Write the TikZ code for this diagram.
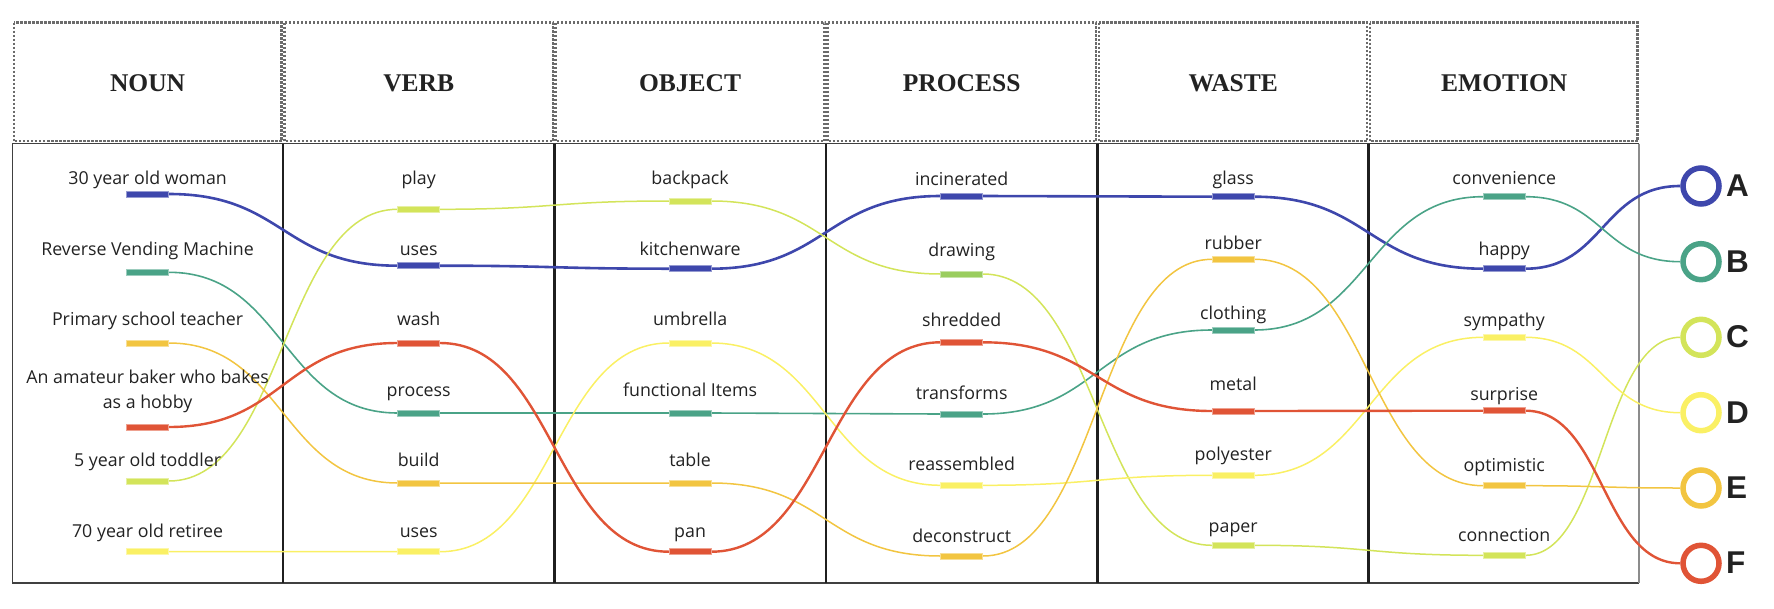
\documentclass[tikz,border=0pt]{standalone}
\usepackage{fontspec}
\newfontfamily\labfont{Open Sans}
\newfontfamily\letfont{Liberation Sans}
\newfontfamily\headfont{Liberation Serif}
\pgfdeclarelayer{frame}
\pgfdeclarelayer{lines}
\pgfsetlayers{frame,lines,main}
\definecolor{cblue}{HTML}{3E47AC}
\definecolor{cteal}{HTML}{4AA387}
\definecolor{clime}{HTML}{D3E45A}
\definecolor{cgreen}{HTML}{9ACD5E}
\definecolor{cyellow}{HTML}{FAF064}
\definecolor{corange}{HTML}{F2C541}
\definecolor{cred}{HTML}{E05436}
\definecolor{ctext}{HTML}{222222}
\begin{document}
\begin{tikzpicture}[x=1pt,y=-1pt,
  bar/.style={rectangle, inner sep=0pt, minimum width=42pt, minimum height=6pt, fill=#1, draw=#1!55!white, line width=0.6pt},
  lab/.style={font=\labfont\fontsize{17.8}{21}\selectfont, text=ctext, anchor=base, inner sep=0pt, align=center},
  head/.style={font=\headfont\bfseries\fontsize{25.5}{28}\selectfont, text=ctext, anchor=base, inner sep=0pt},
  headcell/.style={draw=black!58, line width=2.5pt, dash pattern=on 2.2pt off 1.8pt},
  divider/.style={draw=black!88, line width=2.8pt},
  flow/.style={out=0, in=180, distance=115pt},
  endflow/.style={out=0, in=180, distance=78pt},
  ring/.style={circle, draw=#1, line width=5.5pt, minimum size=36pt, inner sep=0pt, fill=white},
  letter/.style={font=\letfont\bfseries\fontsize{31.5}{34}\selectfont, text=ctext, anchor=base west, inner sep=0pt},
  lblue/.style={draw=cblue, line width=2.6pt},
  lteal/.style={draw=cteal, line width=1.6pt},
  llime/.style={draw=clime, line width=1.5pt},
  lyellow/.style={draw=cyellow, line width=1.5pt},
  lorange/.style={draw=corange, line width=1.5pt},
  lred/.style={draw=cred, line width=2.4pt}
]
\useasboundingbox (0,0) rectangle (1774,608);

% ---------- frame ----------
\begin{pgfonlayer}{frame}
\foreach \a/\b in {12.5/283, 283/554.4, 554.4/826, 826/1097.5, 1097.5/1368.5, 1368.5/1639}{
  \draw[headcell] (\a+1.3,22.7) rectangle (\b-1.3,141.2);
}
\draw[draw=black!75, line width=1.8pt] (1639,143.5) -- (12.5,143.5) -- (12.5,583) -- (1639,583);
\draw[draw=black!45, line width=1.5pt] (1639,143.5) -- (1639,583);
\foreach \x in {283, 554.4, 826, 1097.5, 1368.5}{
  \draw[divider] (\x,143.5) -- (\x,583);
}
\end{pgfonlayer}

% ---------- headers ----------
\node[head] (hN) at (147.6,91.7) {NOUN};
\node[head] (hV) at (418.7,91.7) {VERB};
\node[head] (hO) at (690.1,91.7) {OBJECT};
\node[head] (hP) at (961.7,91.7) {PROCESS};
\node[head] (hW) at (1233.2,91.7) {WASTE};
\node[head] (hE) at (1504.2,91.7) {EMOTION};

% ---------- NOUN ----------
\node[lab] (tn1) at (147.6,184.5) {30 year old woman};
\node[lab] (tn2) at (147.6,255) {Reverse Vending Machine};
\node[lab] (tn3) at (147.6,325) {Primary school teacher};
\node[lab] (tn4a) at (147.6,383) {An amateur baker who bakes};
\node[lab] (tn4b) at (147.6,408.5) {as a hobby};
\node[lab] (tn5) at (147.6,466) {5 year old toddler};
\node[lab] (tn6) at (147.6,537) {70 year old retiree};
\node[bar=cblue] (n1) at (147.6,194) {};
\node[bar=cteal] (n2) at (147.6,272.3) {};
\node[bar=corange] (n3) at (147.6,343) {};
\node[bar=cred] (n4) at (147.6,427) {};
\node[bar=clime] (n5) at (147.6,481) {};
\node[bar=cyellow] (n6) at (147.6,551.7) {};

% ---------- VERB ----------
\node[lab] (tv1) at (418.7,184.5) {play};
\node[lab] (tv2) at (418.7,255) {uses};
\node[lab] (tv3) at (418.7,325) {wash};
\node[lab] (tv4) at (418.7,396.5) {process};
\node[lab] (tv5) at (418.7,466) {build};
\node[lab] (tv6) at (418.7,537) {uses};
\node[bar=clime] (v1) at (418.7,209.3) {};
\node[bar=cblue] (v2) at (418.7,265.7) {};
\node[bar=cred] (v3) at (418.7,343) {};
\node[bar=cteal] (v4) at (418.7,413) {};
\node[bar=corange] (v5) at (418.7,483) {};
\node[bar=cyellow] (v6) at (418.7,551.7) {};

% ---------- OBJECT ----------
\node[lab] (to1) at (690.1,184.5) {backpack};
\node[lab] (to2) at (690.1,255) {kitchenware};
\node[lab] (to3) at (690.1,325) {umbrella};
\node[lab] (to4) at (690.1,396) {functional Items};
\node[lab] (to5) at (690.1,466) {table};
\node[lab] (to6) at (690.1,537.5) {pan};
\node[bar=clime] (o1) at (690.1,201) {};
\node[bar=cblue] (o2) at (690.1,268.7) {};
\node[bar=cyellow] (o3) at (690.1,343) {};
\node[bar=cteal] (o4) at (690.1,413) {};
\node[bar=corange] (o5) at (690.1,483) {};
\node[bar=cred] (o6) at (690.1,551.7) {};

% ---------- PROCESS ----------
\node[lab] (tp1) at (961.7,185) {incinerated};
\node[lab] (tp2) at (961.7,256) {drawing};
\node[lab] (tp3) at (961.7,326.7) {shredded};
\node[lab] (tp4) at (961.7,399.3) {transforms};
\node[lab] (tp5) at (961.7,470) {reassembled};
\node[lab] (tp6) at (961.7,542) {deconstruct};
\node[bar=cblue] (p1) at (961.7,196) {};
\node[bar=cgreen] (p2) at (961.7,274) {};
\node[bar=cred] (p3) at (961.7,342.3) {};
\node[bar=cteal] (p4) at (961.7,414) {};
\node[bar=cyellow] (p5) at (961.7,485.3) {};
\node[bar=corange] (p6) at (961.7,556) {};

% ---------- WASTE ----------
\node[lab] (tw1) at (1233.2,184.5) {glass};
\node[lab] (tw2) at (1233.2,249.3) {rubber};
\node[lab] (tw3) at (1233.2,319.3) {clothing};
\node[lab] (tw4) at (1233.2,390) {metal};
\node[lab] (tw5) at (1233.2,460) {polyester};
\node[lab] (tw6) at (1233.2,532) {paper};
\node[bar=cblue] (w1) at (1233.2,196.7) {};
\node[bar=corange] (w2) at (1233.2,259.3) {};
\node[bar=cteal] (w3) at (1233.2,330) {};
\node[bar=cred] (w4) at (1233.2,411) {};
\node[bar=cyellow] (w5) at (1233.2,475.3) {};
\node[bar=clime] (w6) at (1233.2,545.3) {};

% ---------- EMOTION ----------
\node[lab] (te1) at (1504.2,184.5) {convenience};
\node[lab] (te2) at (1504.2,255.3) {happy};
\node[lab] (te3) at (1504.2,326) {sympathy};
\node[lab] (te4) at (1504.2,400.3) {surprise};
\node[lab] (te5) at (1504.2,471) {optimistic};
\node[lab] (te6) at (1504.2,541.3) {connection};
\node[bar=cteal] (e1) at (1504.2,196.7) {};
\node[bar=cblue] (e2) at (1504.2,268.7) {};
\node[bar=cyellow] (e3) at (1504.2,337.3) {};
\node[bar=cred] (e4) at (1504.2,410.7) {};
\node[bar=corange] (e5) at (1504.2,485.7) {};
\node[bar=clime] (e6) at (1504.2,555.3) {};

% ---------- end rings ----------
\node[ring=cblue] (cA) at (1701,186) {};
\node[ring=cteal] (cB) at (1701,261.7) {};
\node[ring=clime] (cC) at (1701,337.3) {};
\node[ring=cyellow] (cD) at (1701,412.7) {};
\node[ring=corange] (cE) at (1701,488) {};
\node[ring=cred] (cF) at (1701,563.3) {};
\node[letter] (lA) at (1726,196.7) {A};
\node[letter] (lB) at (1726,272.2) {B};
\node[letter] (lC) at (1726,347.8) {C};
\node[letter] (lD) at (1726,423.2) {D};
\node[letter] (lE) at (1726,498.5) {E};
\node[letter] (lF) at (1726,573.8) {F};

% ---------- flows ----------
\begin{pgfonlayer}{lines}
\draw[lblue] (n1.east) to[flow] (v2.west) -- (v2.east) to[flow] (o2.west) -- (o2.east) to[flow] (p1.west) -- (p1.east) to[flow] (w1.west) -- (w1.east) to[flow] (e2.west) -- (e2.east) to[endflow] (cA.west);
\draw[lteal] (n2.east) to[flow] (v4.west) -- (v4.east) to[flow] (o4.west) -- (o4.east) to[flow] (p4.west) -- (p4.east) to[flow] (w3.west) -- (w3.east) to[flow] (e1.west) -- (e1.east) to[endflow] (cB.west);
\draw[llime] (n5.east) to[flow] (v1.west) -- (v1.east) to[flow] (o1.west) -- (o1.east) to[flow] (p2.west) -- (p2.east) to[flow] (w6.west) -- (w6.east) to[flow] (e6.west) -- (e6.east) to[endflow] (cC.west);
\draw[lyellow] (n6.east) to[flow] (v6.west) -- (v6.east) to[flow] (o3.west) -- (o3.east) to[flow] (p5.west) -- (p5.east) to[flow] (w5.west) -- (w5.east) to[flow] (e3.west) -- (e3.east) to[endflow] (cD.west);
\draw[lorange] (n3.east) to[flow] (v5.west) -- (v5.east) to[flow] (o5.west) -- (o5.east) to[flow] (p6.west) -- (p6.east) to[flow] (w2.west) -- (w2.east) to[flow] (e5.west) -- (e5.east) to[endflow] (cE.west);
\draw[lred] (n4.east) to[flow] (v3.west) -- (v3.east) to[flow] (o6.west) -- (o6.east) to[flow] (p3.west) -- (p3.east) to[flow] (w4.west) -- (w4.east) to[flow] (e4.west) -- (e4.east) to[endflow] (cF.west);
\end{pgfonlayer}
\end{tikzpicture}
\end{document}
